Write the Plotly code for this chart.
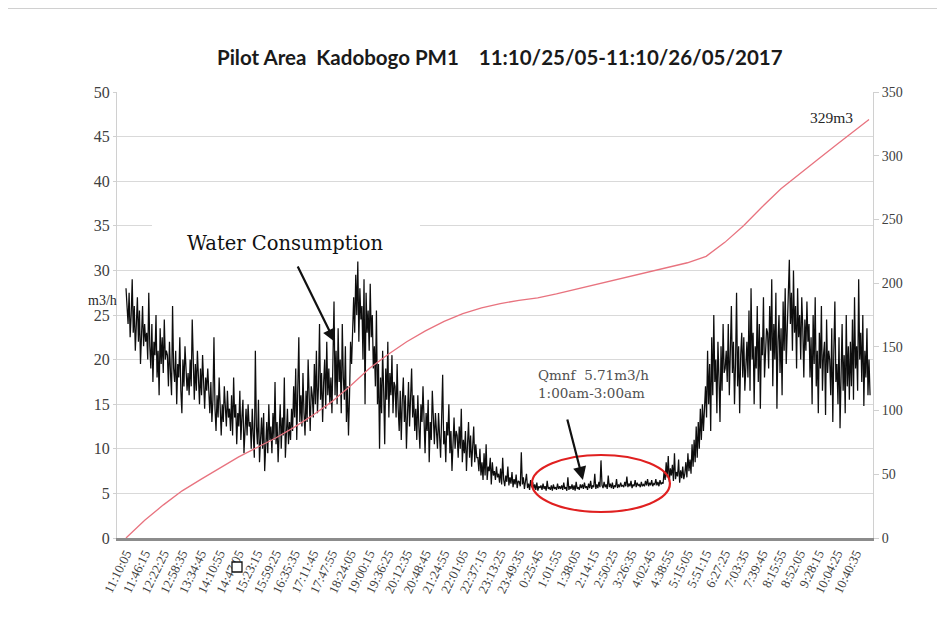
import plotly.graph_objects as go

# ---------------- data ----------------
tick_labels = ["11:10:05", "11:46:15", "12:22:25", "12:58:35", "13:34:45", "14:10:55", "14:47:05",
               "15:23:15", "15:59:25", "16:35:35", "17:11:45", "17:47:55", "18:24:05", "19:00:15",
               "19:36:25", "20:12:35", "20:48:45", "21:24:55", "22:01:05", "22:37:15", "23:13:25",
               "23:49:35", "0:25:45", "1:01:55", "1:38:05", "2:14:15", "2:50:25", "3:26:35",
               "4:02:45", "4:38:55", "5:15:05", "5:51:15", "6:27:25", "7:03:35", "7:39:45",
               "8:15:55", "8:52:05", "9:28:15", "10:04:25", "10:40:35"]
tick_step_min = 2170 / 60.0       # 36 min 10 s between labels
flow_step_min = 2                 # one flow reading every 2 minutes

# flow rate, m3/h (left axis): 20 readings per 40 minutes
flow = [
    28, 26.5, 24, 27.5, 22.5, 25, 29, 23, 26, 21, 24.5, 27, 22, 25.5, 19.5, 23.5, 26, 21.5, 24, 22,
    23, 20, 27.5, 21.5, 19, 24, 17.5, 22, 20.5, 25, 18, 21, 16, 23.5, 19.5, 22.5, 18.5, 24.5, 20, 21,
    20.5, 17, 22, 18.5, 16, 26, 19, 17.5, 21, 15, 19.5, 18, 22.5, 16.5, 14, 20, 17, 21.5, 18.5, 16.5,
    18.5, 16, 20, 17, 24.5, 18, 15.5, 19.5, 16.5, 21, 17.5, 15, 19, 16, 20.5, 17.5, 14.5, 18, 16.5, 19,
    16.5, 14, 17.5, 13, 15.5, 22.5, 14.5, 12, 16, 13.5, 18, 14.5, 11.5, 15, 13, 17, 14, 12.5, 16.5, 13.5,
    14.5, 12, 16, 11.5, 18, 13.5, 15, 10.5, 14, 12.5, 16.5, 11, 13.5, 15.5, 9.5, 13, 14.5, 11.5, 15, 12.5,
    13, 10, 14.5, 11.5, 9, 21, 12.5, 10.5, 15.5, 8.5, 12, 13.5, 10, 14, 7.5, 11.5, 13, 9.5, 15, 11,
    12.5, 9.5, 14, 11, 17.5, 10.5, 13, 8.5, 12, 15, 10, 13.5, 11.5, 18, 9, 12.5, 14.5, 10.5, 13, 11,
    14.5, 12, 17, 13.5, 19, 11, 15.5, 22.5, 13, 16, 12.5, 18.5, 14, 11.5, 16.5, 13, 20, 14.5, 12, 17,
    16, 13.5, 19.5, 15, 21, 14, 17, 24, 15.5, 18.5, 13, 17.5, 20, 14.5, 22, 16, 19, 15, 18, 14,
    19, 26.5, 16, 21, 15, 23.5, 17.5, 20, 14, 24, 18, 15.5, 21.5, 13, 17, 11.5, 16, 22, 19.5, 24.5,
    27, 23, 29.5, 25, 31, 22, 28, 24.5, 26, 20, 29, 15, 27.5, 23, 25.5, 21, 28.5, 22.5, 25, 19,
    21.5, 17, 25.5, 15, 19.5, 10, 18, 14, 21, 16.5, 10.5, 19, 15.5, 22, 13.5, 18.5, 16, 20.5, 14, 17.5,
    17, 13.5, 19.5, 14.5, 12, 16.5, 11, 15.5, 18, 13, 16, 10, 14.5, 17.5, 12.5, 15, 19, 13.5, 16, 12,
    14.5, 11, 16, 12.5, 10, 15, 13, 17, 11.5, 9.5, 14, 12, 15.5, 8.5, 13, 11, 16.5, 12.5, 10.5, 14,
    12.5, 10, 14, 11, 9, 13.5, 18.3, 10.5, 12, 8.5, 13, 11.5, 15, 9.5, 12, 7.5, 11, 13.5, 10, 12,
    11.5, 9, 12.5, 10, 14.5, 8.5, 11, 9.5, 12, 7.5, 10.5, 13, 9, 11.5, 8, 10, 12.5, 8.5, 10.5, 9,
    9, 7.5, 10, 7, 8.5, 6.5, 9.5, 7, 10.5, 6.5, 8, 7.5, 9, 6, 8.5, 7, 7.5, 6.5, 8, 6.8,
    7.2, 6.2, 7.8, 6, 9, 6.5, 5.8, 7, 6.3, 8, 5.9, 6.8, 6.1, 7.4, 5.7, 6.6, 6, 7.1, 5.6, 6.4,
    6.3, 5.8, 9.6, 6, 6.8, 5.5, 6.2, 7.2, 5.6, 6.1, 5.4, 6.5, 5.7, 6.3, 5.5, 6.0, 5.4, 6.2, 5.3, 5.8,
    5.6, 5.9, 5.4, 6.1, 5.5, 5.8, 5.3, 6.4, 5.5, 5.7, 5.4, 5.9, 5.3, 6.0, 5.5, 5.7, 5.4, 6.1, 5.5, 5.8,
    5.5, 5.9, 5.4, 6.2, 5.5, 5.7, 5.3, 6.8, 5.4, 5.8, 5.5, 6.0, 5.4, 5.9, 5.3, 6.3, 5.5, 5.7, 5.4, 6.0,
    5.6, 6.0, 5.5, 6.2, 5.6, 5.8, 5.4, 6.1, 5.6, 6.4, 5.5, 5.9, 5.7, 7.2, 5.5, 6.0, 5.6, 6.3, 5.7, 8.7,
    5.9, 5.6, 6.3, 5.7, 6.0, 5.5, 7.0, 5.7, 6.1, 5.6, 6.2, 5.5, 5.9, 5.7, 6.6, 5.6, 6.0, 5.7, 6.2, 5.8,
    5.9, 5.7, 6.3, 5.8, 6.9, 5.7, 6.1, 5.8, 6.4, 5.6, 6.0, 5.8, 6.5, 5.7, 6.2, 5.9, 6.0, 5.7, 6.3, 5.8,
    6.0, 5.8, 6.4, 5.9, 6.6, 5.8, 6.2, 5.9, 6.5, 5.8, 6.1, 6.0, 6.6, 5.9, 6.3, 5.8, 6.5, 6.0, 6.2, 6.1,
    7.5, 6.5, 8.5, 6.8, 9.2, 6.3, 7.8, 7.0, 8.2, 6.4, 9.5, 6.6, 7.4, 6.9, 8.8, 6.2, 7.6, 6.7, 8.0, 6.6,
    7.2, 8.5, 6.8, 9.5, 7.5, 8.8, 7.2, 10.5, 8, 11, 8.5, 12.5, 9, 13, 10, 14.5, 11, 15, 12, 14,
    17, 13.5, 21, 15, 19.5, 12, 22.5, 16, 25, 17.5, 20, 14, 22, 18, 13, 21.5, 16.5, 24, 18.5, 19,
    21, 17.5, 24, 16, 20, 26, 18.5, 22, 15, 19.5, 27.5, 17, 21.5, 14, 20.5, 23, 18, 22.5, 16.5, 20,
    22, 18, 25.5, 16.5, 28, 20, 23, 15, 21.5, 19, 26, 17.5, 24, 14.5, 22.5, 20.5, 27, 18, 21, 23.5,
    23, 19, 26, 21, 29, 17, 24, 20, 27.5, 14.5, 22, 25, 18.5, 23.5, 16, 26.5, 21, 28, 19.5, 24,
    29, 31.2, 24, 27.5, 21, 30, 23, 26, 19, 28, 22.5, 25, 20, 27, 23.5, 18, 24.5, 21, 26.5, 22,
    24, 18, 22.5, 15, 25, 19.5, 27, 17, 21, 14, 23, 19, 26, 16.5, 20.5, 22, 13.8, 24.5, 18.5, 21,
    20, 16, 23.5, 13, 21, 26.5, 17.5, 19.5, 15, 22.5, 12.3, 18, 24, 16.5, 20.5, 14, 25, 17, 21.5, 15.5,
    22, 17, 24.5, 15.5, 27, 19, 21.5, 16.5, 29, 20, 23, 17.5, 25, 14.8, 21, 18, 23.5, 16, 20, 16,
]

# cumulative volume, m3 (right axis), read at each label time plus the final reading
cumulative = [0, 14, 26, 37, 46, 55, 63.5, 71, 78.5, 87,
              96.5, 107, 119.5, 133, 144, 154, 162.5, 170, 176, 180.5,
              184, 186.5, 188.5, 191.5, 195, 198.5, 202, 205.5, 209, 212.5,
              216, 221, 232, 245, 260, 274, 286, 297.5, 309, 320.5,
              328.5]
cumulative_end_min = 1436

# ---------------- positions derived from the data ----------------
flow_x = [i * flow_step_min for i in range(len(flow))]
tick_x = [i * tick_step_min for i in range(len(tick_labels))]
cum_x = tick_x + [cumulative_end_min]

serif = "Liberation Serif, Times New Roman, serif"
wide_serif = "DejaVu Serif, serif"

# plot area in figure pixels (figure is offset by the page's 8px body margin)
L, T, W, H = 109, 84, 756, 446
FIG_W, FIG_H = 937, 618

fig = go.Figure()
fig.add_trace(go.Scatter(x=flow_x, y=flow, mode="lines",
                         line=dict(color="#0d0d0d", width=1.25), yaxis="y",
                         showlegend=False, hoverinfo="skip"))
fig.add_trace(go.Scatter(x=cum_x, y=cumulative, mode="lines",
                         line=dict(color="#e8737f", width=1.3), yaxis="y2",
                         showlegend=False, hoverinfo="skip"))


# helpers: screen pixel -> data / paper coordinates
def px_to_t(px):
    return (px - 126) / 0.5175


def py_to_v(py):
    return (538 - py) / 8.92


def px_paper(px):
    return (px - 8 - L) / W


def py_paper(py):
    return (T + H - (py - 8)) / H


annotations = [
    dict(text="<b>Pilot Area\u00a0\u00a0Kadobogo PM1\u00a0\u00a0\u00a0 11:10/25/05-11:10/26/05/2017</b>",
         xref="paper", yref="paper", x=px_paper(500), y=py_paper(57),
         showarrow=False, xanchor="center", yanchor="middle",
         font=dict(family="Lato, sans-serif", size=20.5, color="#1a1a1a")),
    dict(text="m3/h", xref="paper", yref="paper", x=px_paper(102), y=py_paper(300),
         showarrow=False, xanchor="center", yanchor="middle",
         font=dict(family=serif, size=14, color="#262626")),
    dict(text="Water Consumption", xref="x", yref="y", x=px_to_t(285), y=py_to_v(243),
         showarrow=False, xanchor="center", yanchor="middle",
         font=dict(family=wide_serif, size=19.5, color="#111111")),
    dict(text="", xref="x", yref="y", x=px_to_t(335), y=py_to_v(342),
         axref="x", ayref="y", ax=px_to_t(297), ay=py_to_v(265),
         showarrow=True, arrowhead=2, arrowsize=1.2, arrowwidth=2.2, arrowcolor="#111111"),
    dict(text="Qmnf\u00a0\u00a05.71m3/h<br>1:00am-3:00am", xref="x", yref="y",
         x=px_to_t(536), y=py_to_v(384), showarrow=False, xanchor="left", yanchor="middle",
         align="left", font=dict(family=wide_serif, size=13.5, color="#505050")),
    dict(text="", xref="x", yref="y", x=px_to_t(583), y=py_to_v(480),
         axref="x", ayref="y", ax=px_to_t(567), ay=py_to_v(418),
         showarrow=True, arrowhead=2, arrowsize=1.2, arrowwidth=2.2, arrowcolor="#111111"),
    dict(text="329m3", xref="x", yref="y", x=px_to_t(855), y=py_to_v(117),
         showarrow=False, xanchor="right", yanchor="middle",
         font=dict(family=serif, size=15.5, color="#262626")),
]

shapes = [
    # white box behind the "Water Consumption" label (hides the grid line)
    dict(type="rect", xref="x", yref="y", x0=px_to_t(152), x1=px_to_t(420),
         y0=py_to_v(262), y1=py_to_v(200), fillcolor="white", line=dict(width=0),
         layer="between"),
    # red ellipse around the night-flow period
    dict(type="circle", xref="x", yref="y", x0=px_to_t(532), x1=px_to_t(670),
         y0=py_to_v(512), y1=py_to_v(455), line=dict(color="#e02020", width=2.2)),
    # small square mark under the axis
    dict(type="rect", xref="paper", yref="paper", x0=px_paper(232), x1=px_paper(242),
         y0=py_paper(572), y1=py_paper(562), line=dict(color="#111111", width=1.3),
         fillcolor="white"),
    # chart-area border (top and right edges)
    dict(type="line", xref="paper", yref="paper", x0=px_paper(8), x1=px_paper(940.5),
         y0=py_paper(8.5), y1=py_paper(8.5), line=dict(color="#d0d0d0", width=1)),
    dict(type="line", xref="paper", yref="paper", x0=px_paper(940.5), x1=px_paper(940.5),
         y0=py_paper(8.5), y1=py_paper(626), line=dict(color="#d0d0d0", width=1)),
]

fig.update_layout(
    width=FIG_W, height=FIG_H,
    margin=dict(l=L, r=FIG_W - L - W, t=T, b=FIG_H - T - H),
    paper_bgcolor="white", plot_bgcolor="white",
    showlegend=False,
    annotations=annotations,
    shapes=shapes,
    xaxis=dict(range=[-17.4, 1443.7], tickmode="array", tickvals=tick_x, ticktext=tick_labels,
               tickangle=-64, showgrid=False, zeroline=False, showline=True,
               linecolor="#8c8c8c", linewidth=3, ticks="",
               tickfont=dict(family=serif, size=13, color="#404040")),
    yaxis=dict(range=[0, 50], dtick=5, tick0=0, showgrid=True, gridcolor="#d9d9d9", gridwidth=1,
               zeroline=False, showline=True, linecolor="#d0d0d0", linewidth=1,
               ticks="outside", ticklen=3, tickcolor="#d0d0d0",
               tickfont=dict(family=serif, size=16, color="#404040")),
    yaxis2=dict(range=[0, 350], dtick=50, tick0=0, overlaying="y", side="right",
                showgrid=False, zeroline=False, showline=True, linecolor="#d0d0d0", linewidth=1,
                ticks="outside", ticklen=5, tickcolor="#d0d0d0",
                tickfont=dict(family=serif, size=14, color="#404040")),
)

fig.write_html("out.html")
